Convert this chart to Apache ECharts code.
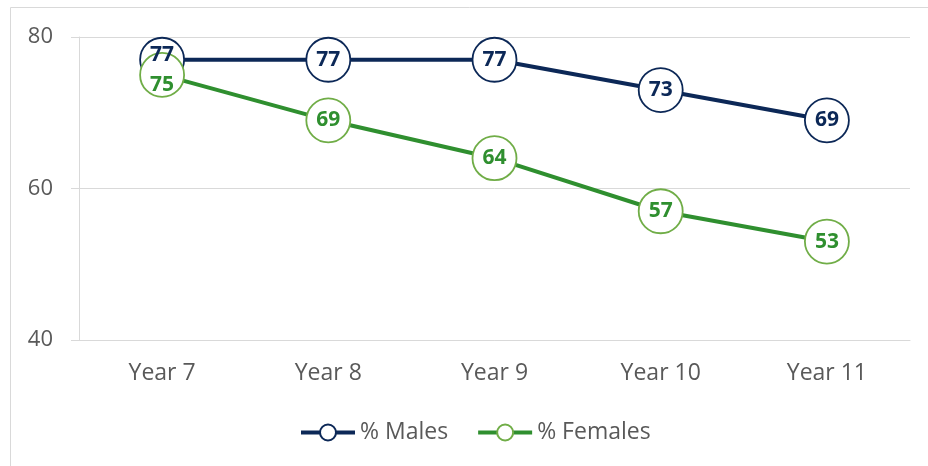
<!DOCTYPE html>
<html>
<head>
<meta charset="utf-8">
<script src="https://cdn.jsdelivr.net/npm/echarts@6/dist/echarts.min.js"></script>
<style>
  html, body { margin: 0; padding: 0; background: #fff; }
  #chart { width: 928px; height: 466px; }
</style>
</head>
<body>
<div id="chart"></div>
<script>
// 数据
var years = ['Year 7', 'Year 8', 'Year 9', 'Year 10', 'Year 11'];
var males = [77, 77, 77, 73, 69];
var females = [75, 69, 64, 57, 53];

var navy = '#0c2857';
var green = '#2f8f2f';
var greenLight = '#70ad47';
var grey = '#595959';
var font = '"Open Sans", sans-serif';

// Year 7 两个标签重叠，稍微错开
function buildData(values, firstOffset) {
  return values.map(function (v, i) {
    if (i === 0) {
      return { value: v, label: { offset: firstOffset } };
    }
    return v;
  });
}

var chart = echarts.init(document.getElementById('chart'));
chart.setOption({
  animation: false,
  textStyle: { fontFamily: font },
  graphic: [{
    type: 'rect',
    shape: { x: 10.5, y: 7.5, width: 940, height: 480 },
    style: { fill: 'none', stroke: '#d9d9d9', lineWidth: 1 },
    silent: true
  }],
  grid: { left: 79, right: 18, top: 37, bottom: 126 },
  legend: {
    bottom: 17,
    left: 294,
    itemWidth: 54,
    itemHeight: 20,
    itemGap: 28,
    lineStyle: { width: 4 },
    textStyle: { color: grey, fontSize: 23, fontFamily: font },
    data: ['% Males', '% Females']
  },
  xAxis: {
    type: 'category',
    data: years,
    axisLine: { lineStyle: { color: '#d9d9d9' } },
    axisTick: { show: false },
    axisLabel: { color: grey, fontSize: 23, margin: 22, fontFamily: font }
  },
  yAxis: {
    type: 'value',
    min: 40,
    max: 80,
    interval: 20,
    axisLine: { show: true, lineStyle: { color: '#d9d9d9' } },
    axisTick: { show: true, length: 8, lineStyle: { color: '#d9d9d9' } },
    splitLine: { lineStyle: { color: '#d9d9d9' } },
    axisLabel: { color: grey, fontSize: 22, margin: 26, fontFamily: font }
  },
  series: [
    {
      name: '% Males',
      type: 'line',
      data: buildData(males, [0, -5]),
      symbol: 'circle',
      symbolSize: 44,
      lineStyle: { color: navy, width: 4 },
      itemStyle: { color: '#fff', borderColor: navy, borderWidth: 1.8 },
      label: {
        show: true,
        position: 'inside',
        color: navy,
        fontSize: 21,
        fontWeight: 'bold',
        fontFamily: font
      }
    },
    {
      name: '% Females',
      type: 'line',
      data: buildData(females, [0, 10]),
      symbol: 'circle',
      symbolSize: 44,
      lineStyle: { color: green, width: 4 },
      itemStyle: { color: '#fff', borderColor: greenLight, borderWidth: 1.8 },
      label: {
        show: true,
        position: 'inside',
        color: green,
        fontSize: 21,
        fontWeight: 'bold',
        fontFamily: font
      }
    }
  ]
});
</script>
</body>
</html>
